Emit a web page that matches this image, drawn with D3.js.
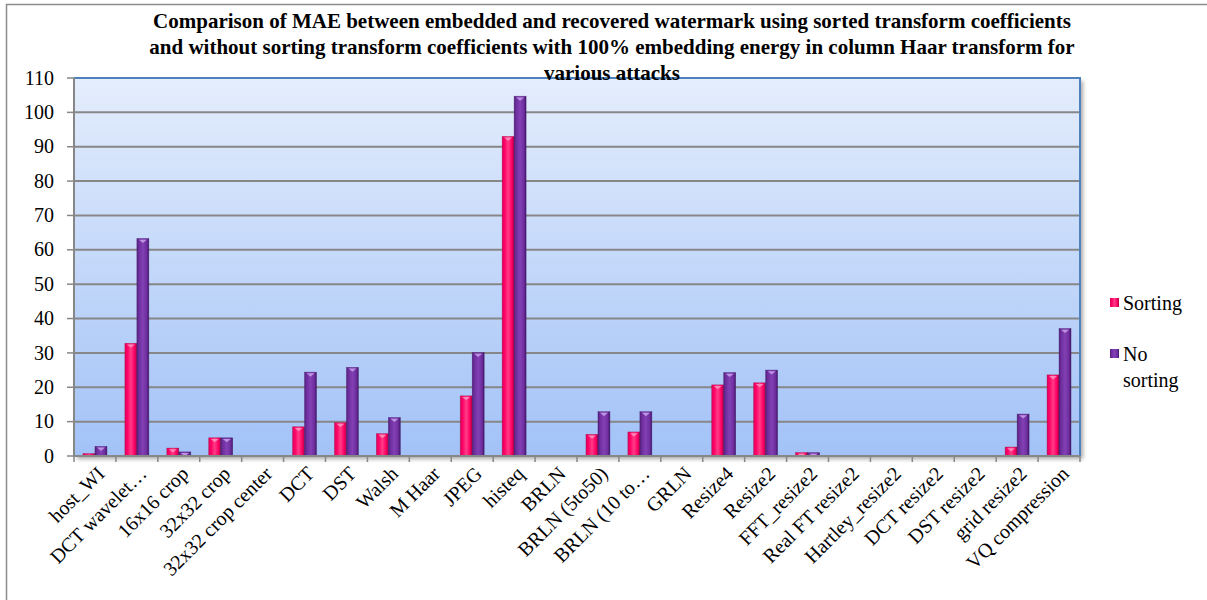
<!DOCTYPE html>
<html>
<head>
<meta charset="utf-8">
<script src="https://cdn.jsdelivr.net/npm/d3@7"></script>
<style>
  html, body { margin: 0; padding: 0; background: #fff; }
  svg { display: block; }
</style>
</head>
<body>
<svg id="chart" width="1207" height="600" font-family="'Liberation Serif', 'Times New Roman', serif"></svg>
<script>
// Attack names along the x axis
const categories = [
  "host_WI", "DCT wavelet\u2026", "16x16 crop", "32x32 crop", "32x32 crop center",
  "DCT", "DST", "Walsh", "M Haar", "JPEG", "histeq", "BRLN", "BRLN (5to50)",
  "BRLN (10 to\u2026", "GRLN", "Resize4", "Resize2", "FFT_resize2", "Real FT resize2",
  "Hartley_resize2", "DCT resize2", "DST resize2", "grid resize2", "VQ compression"
];

// MAE with sorted transform coefficients
const sortingValues = [
  0.7, 32.8, 2.3, 5.3, 0, 8.5, 9.7, 6.5, 0, 17.5, 93.0, 0, 6.3,
  7.0, 0.2, 20.7, 21.3, 1.0, 0, 0, 0, 0, 2.6, 23.6
];

// MAE without sorting transform coefficients
const noSortingValues = [
  2.8, 63.3, 1.2, 5.3, 0, 24.4, 25.8, 11.2, 0, 30.1, 104.7, 0, 12.9,
  12.9, 0.1, 24.3, 25.0, 1.0, 0, 0, 0, 0, 12.2, 37.1
];

const seriesNames = ["Sorting", "No sorting"];
const yTicks = [0, 10, 20, 30, 40, 50, 60, 70, 80, 90, 100, 110];
const titleLines = [
  "Comparison of MAE between embedded and recovered watermark using sorted transform coefficients",
  "and without sorting transform coefficients with 100% embedding energy in column Haar transform for",
  "various attacks"
];

const FONT = "'Liberation Serif', 'Times New Roman', serif";
const svg = d3.select("#chart");
const plot = { left: 74, right: 1080, top: 78, bottom: 456 };

// Outer chart frame
svg.append("rect")
  .attr("x", 6.5).attr("y", 4.5).attr("width", 1210).attr("height", 610)
  .attr("fill", "none").attr("stroke", "#8c8c8c").attr("stroke-width", 1.5);

const defs = svg.append("defs");

// Plot area background gradient
const bg = defs.append("linearGradient").attr("id", "bgGrad")
  .attr("x1", 0).attr("y1", 0).attr("x2", 0).attr("y2", 1);
bg.append("stop").attr("offset", "0%").attr("stop-color", "#e4edfc");
bg.append("stop").attr("offset", "100%").attr("stop-color", "#a2c2f7");

// Cylinder-like shading for bars
const barColors = {
  "Sorting": ["#b0003f", "#ff0066", "#ff3d86", "#e0005a"],
  "No sorting": ["#44166c", "#7030a0", "#8240b4", "#56207f"]
};
Object.entries(barColors).forEach(([name, c], i) => {
  const g = defs.append("linearGradient").attr("id", "barGrad" + i)
    .attr("x1", 0).attr("y1", 0).attr("x2", 1).attr("y2", 0);
  g.append("stop").attr("offset", "0%").attr("stop-color", c[3]);
  g.append("stop").attr("offset", "20%").attr("stop-color", c[1]);
  g.append("stop").attr("offset", "50%").attr("stop-color", c[2]);
  g.append("stop").attr("offset", "80%").attr("stop-color", c[1]);
  g.append("stop").attr("offset", "100%").attr("stop-color", c[0]);
});

// Soft shadow behind plot area
const shadow = defs.append("filter").attr("id", "plotShadow")
  .attr("x", "-2%").attr("y", "-2%").attr("width", "104%").attr("height", "106%");
shadow.append("feGaussianBlur").attr("in", "SourceAlpha").attr("stdDeviation", 2);
shadow.append("feOffset").attr("dx", 3).attr("dy", 3).attr("result", "b");
shadow.append("feComponentTransfer").append("feFuncA").attr("type", "linear").attr("slope", 0.35);
const merge = shadow.append("feMerge");
merge.append("feMergeNode");
merge.append("feMergeNode").attr("in", "SourceGraphic");

const x = d3.scaleBand().domain(categories).range([plot.left, plot.right]).padding(0);
const x1 = d3.scaleBand().domain(seriesNames).range([0, x.bandwidth()])
  .paddingInner(0).paddingOuter(0.75);
const y = d3.scaleLinear().domain([0, 110]).range([plot.bottom, plot.top]);

// Plot area
svg.append("rect")
  .attr("x", plot.left).attr("y", plot.top)
  .attr("width", plot.right - plot.left).attr("height", plot.bottom - plot.top)
  .attr("fill", "url(#bgGrad)").attr("filter", "url(#plotShadow)");

// Horizontal gridlines
svg.append("g").selectAll("line")
  .data(yTicks.filter(t => t > 0 && t < 110))
  .join("line")
  .attr("x1", plot.left).attr("x2", plot.right)
  .attr("y1", d => y(d)).attr("y2", d => y(d))
  .attr("stroke", "#878787").attr("stroke-width", 2);

// Plot border: blue on top and right
svg.append("path")
  .attr("d", `M${plot.left},${plot.top}H${plot.right}V${plot.bottom}`)
  .attr("fill", "none").attr("stroke", "#4f81bd").attr("stroke-width", 2);

// Bars
const data = categories.map((c, i) => ({ cat: c, vals: [sortingValues[i], noSortingValues[i]] }));
const groups = svg.append("g").selectAll("g")
  .data(data).join("g")
  .attr("transform", d => `translate(${x(d.cat)},0)`);

groups.selectAll("g.bar")
  .data(d => d.vals.map((v, k) => ({ name: seriesNames[k], k, v })))
  .join("g").attr("class", "bar")
  .each(function (d) {
    if (d.v <= 0) return;
    const g = d3.select(this);
    const bx = x1(d.name), bw = x1.bandwidth();
    const top = y(d.v), h = plot.bottom - top;
    g.append("rect")
      .attr("x", bx).attr("y", top).attr("width", bw).attr("height", h)
      .attr("fill", `url(#barGrad${d.k})`)
      .attr("stroke", d.k === 0 ? "#a0003c" : "#3f1466").attr("stroke-width", 0.6)
      .attr("stroke-opacity", 0.6);
    if (h > 3) {
      // rounded top cap highlight
      g.append("path")
        .attr("d", `M${bx + 2},${top + 1.2}L${bx + bw - 2},${top + 1.2}L${bx + bw / 2},${top + 4.5}Z`)
        .attr("fill", d.k === 0 ? "#ff8fbb" : "#c49be8").attr("opacity", 0.9);
    }
  });

// Y axis line, ticks and labels
svg.append("line")
  .attr("x1", plot.left).attr("x2", plot.left)
  .attr("y1", plot.top).attr("y2", plot.bottom + 1)
  .attr("stroke", "#878787").attr("stroke-width", 2);
svg.append("g").selectAll("line")
  .data(yTicks).join("line")
  .attr("x1", plot.left - 7).attr("x2", plot.left)
  .attr("y1", d => y(d)).attr("y2", d => y(d))
  .attr("stroke", "#878787").attr("stroke-width", 1.5);
svg.append("g").selectAll("text")
  .data(yTicks).join("text")
  .attr("x", plot.left - 20).attr("y", d => y(d))
  .attr("dy", "0.33em").attr("text-anchor", "end")
  .attr("font-family", FONT).attr("font-size", 20)
  .text(d => d);

// X axis line, ticks and labels
svg.append("line")
  .attr("x1", plot.left).attr("x2", plot.right)
  .attr("y1", plot.bottom).attr("y2", plot.bottom)
  .attr("stroke", "#878787").attr("stroke-width", 2);
svg.append("g").selectAll("line")
  .data(categories.concat(["__end"])).join("line")
  .attr("x1", (d, i) => plot.left + i * x.step())
  .attr("x2", (d, i) => plot.left + i * x.step())
  .attr("y1", plot.bottom).attr("y2", plot.bottom + 6)
  .attr("stroke", "#878787").attr("stroke-width", 1.5);
svg.append("g").selectAll("text")
  .data(categories).join("text")
  .attr("transform", d => `translate(${x(d) + x.bandwidth() / 2 + 6},${plot.bottom + 14}) rotate(-45)`)
  .attr("text-anchor", "end")
  .attr("dy", "0.35em")
  .attr("font-family", FONT).attr("font-size", 20)
  .text(d => d);

// Title
svg.append("g").selectAll("text")
  .data(titleLines).join("text")
  .attr("x", 612).attr("y", (d, i) => 28 + i * 26)
  .attr("text-anchor", "middle")
  .attr("font-family", FONT).attr("font-size", 21).attr("font-weight", "bold")
  .text(d => d);

// Legend
const legend = svg.append("g").attr("font-family", FONT).attr("font-size", 20);
legend.append("rect").attr("x", 1110).attr("y", 298).attr("width", 9).attr("height", 9)
  .attr("fill", "url(#barGrad0)");
legend.append("text").attr("x", 1123).attr("y", 310).text("Sorting");
legend.append("rect").attr("x", 1110).attr("y", 349).attr("width", 9).attr("height", 9)
  .attr("fill", "url(#barGrad1)");
legend.append("text").attr("x", 1123).attr("y", 361).text("No");
legend.append("text").attr("x", 1123).attr("y", 387).text("sorting");
</script>
</body>
</html>
